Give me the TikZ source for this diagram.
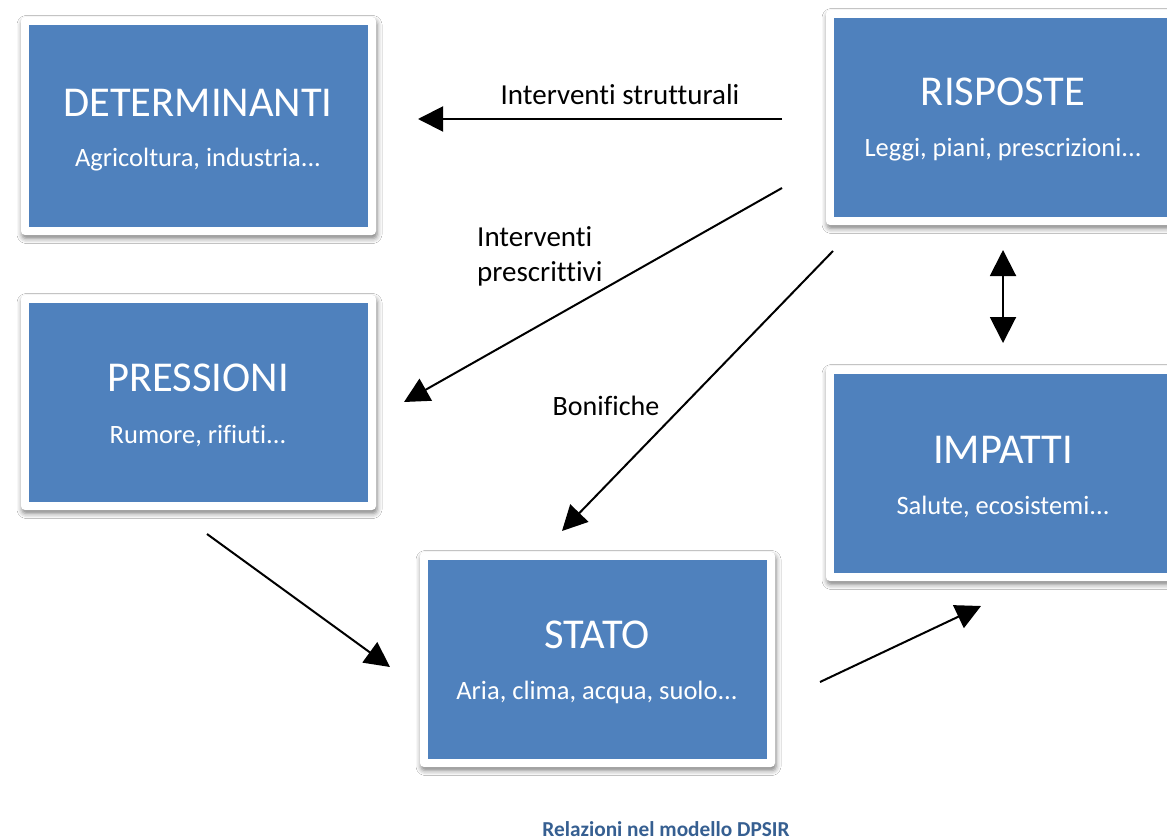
\documentclass[tikz,border=0pt]{standalone}
\usepackage{fontspec}
\setmainfont{Carlito}[Ligatures=NoCommon]
\usetikzlibrary{arrows.meta,shadows.blur}
\definecolor{boxblue}{HTML}{4F81BD}
\definecolor{capblue}{HTML}{365F91}
\tikzset{
  % white rounded frame with a soft shadow and a blue face inset by 8pt
  panel/.style={fill=white, draw=none, rounded corners=4pt,
    blur shadow={shadow xshift=1pt, shadow yshift=-3.5pt, shadow blur radius=5pt, shadow opacity=50},
    anchor=north west, inner sep=0pt, outer sep=0pt,
    path picture={\fill[boxblue, sharp corners]
      ([shift={(8pt,-8pt)}]path picture bounding box.north west) rectangle
      ([shift={(-8pt,8pt)}]path picture bounding box.south east);}},
  ttl/.style={text=white, font=\fontsize{42.5}{48}\selectfont},
  sub/.style={text=white, font=\fontsize{26.5}{31}\selectfont},
  lbl/.style={text=black, font=\fontsize{29}{35.5}\selectfont},
  link/.style={line width=2pt, -{Triangle[width=25pt,length=25pt]}},
  twoway/.style={line width=2pt, {Triangle[width=26pt,length=26pt]}-{Triangle[width=26pt,length=26pt]}}
}
\begin{document}
\begin{tikzpicture}[x=1pt,y=-1pt]
\useasboundingbox (0,0) rectangle (1167,840);
\clip (0,0) rectangle (1167,840);
\fill[white] (0,0) rectangle (1167,840);

% boxes
\node[panel, minimum width=355pt, minimum height=218pt] (det) at (21,17) {};
\node[panel, minimum width=355pt, minimum height=215pt] (pre) at (21,295) {};
\node[panel, minimum width=355pt, minimum height=215pt] (sta) at (420,552) {};
\node[panel, minimum width=355pt, minimum height=215pt] (ris) at (826,10) {};
\node[panel, minimum width=355pt, minimum height=215pt] (imp) at (826,366) {};

% box texts
\node[ttl] (det-t) at (198,103) {DETERMINANTI};
\node[sub] (det-s) at (198,160) {Agricoltura, industria...};
\node[ttl] (pre-t) at (198,378) {PRESSIONI};
\node[sub] (pre-s) at (198,436) {Rumore, rifiuti...};
\node[ttl] (sta-t) at (597,635) {STATO};
\node[sub] (sta-s) at (597,692) {Aria, clima, acqua, suolo...};
\node[ttl] (ris-t) at (1003,92) {RISPOSTE};
\node[sub] (ris-s) at (1003,150) {Leggi, piani, prescrizioni...};
\node[ttl] (imp-t) at (1003,450) {IMPATTI};
\node[sub] (imp-s) at (1003,507) {Salute, ecosistemi...};

% connector end points
\coordinate (a1s) at (782,119);  \coordinate (a1e) at (418,119);
\coordinate (a2s) at (782,188);  \coordinate (a2e) at (404,402);
\coordinate (a3s) at (833,251);  \coordinate (a3e) at (562,531);
\coordinate (a4s) at (1003,250); \coordinate (a4e) at (1003,343);
\coordinate (a5s) at (207,534);  \coordinate (a5e) at (390,667);
\coordinate (a6s) at (820,682);  \coordinate (a6e) at (981,606);

\draw[link] (a1s) -- (a1e);
\draw[link] (a2s) -- (a2e);
\draw[link] (a3s) -- (a3e);
\draw[twoway] (a4s) -- (a4e);
\draw[link] (a5s) -- (a5e);
\draw[link] (a6s) -- (a6e);

% connector labels
\node[lbl] (l1) at (620,95) {Interventi strutturali};
\node[lbl, align=left, anchor=west, inner sep=0pt] (l2) at (477,256.5) {Interventi\\prescrittivi};
\node[lbl, font=\fontsize{28}{34}\selectfont] (l3) at (606,406) {Bonifiche};

% caption
\node[text=capblue, font=\fontsize{21.3}{25}\selectfont\bfseries] (cap) at (666,829) {Relazioni nel modello DPSIR};
\end{tikzpicture}
\end{document}
